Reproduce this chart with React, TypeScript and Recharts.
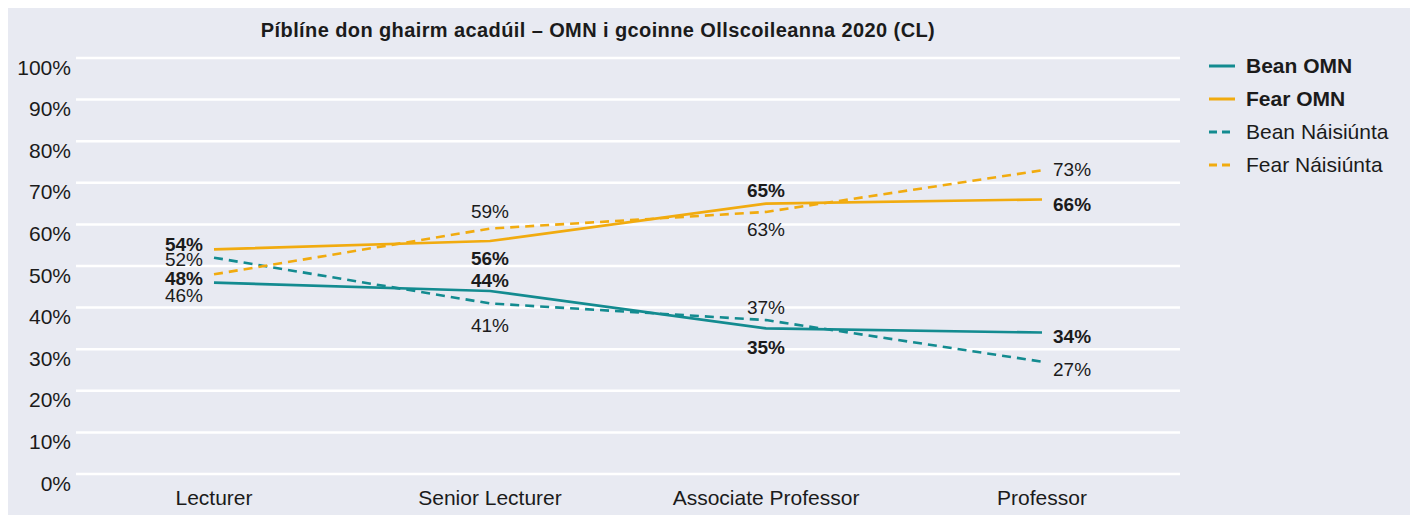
import React from "react";
import { LineChart, Line, XAxis, YAxis, CartesianGrid, LabelList } from "recharts";

const categories = ["Lecturer", "Senior Lecturer", "Associate Professor", "Professor"];
const beanOmn = [46, 44, 35, 34];
const fearOmn = [54, 56, 65, 66];
const beanNat = [52, 41, 37, 27];
const fearNat = [48, 59, 63, 73];
const yTicks = [0, 10, 20, 30, 40, 50, 60, 70, 80, 90, 100];

const TEAL = "#138b90";
const ORANGE = "#f1ab0f";
const BG = "#e8eaf2";
const TEXT = "#1b1b1b";
const FONT = "'Liberation Sans', Arial, sans-serif";

const data = categories.map((name, i) => ({
  name,
  beanOmn: beanOmn[i],
  fearOmn: fearOmn[i],
  beanNat: beanNat[i],
  fearNat: fearNat[i],
}));

type Place = "left" | "right" | "above" | "below";
// where each value label sits relative to its point, a vertical nudge, and its weight
const labelPlaces: Record<string, Array<[Place, number, boolean]>> = {
  beanOmn: [["left", 13, false], ["above", -10, true], ["below", 19, true], ["right", 4, true]],
  fearOmn: [["left", -5, true], ["below", 17, true], ["above", -13, true], ["right", 5, true]],
  beanNat: [["left", 2, false], ["below", 22, false], ["above", -13, false], ["right", 8, false]],
  fearNat: [["left", 4, true], ["above", -17, false], ["below", 18, false], ["right", -1, false]],
};

const series = [
  { key: "beanOmn", name: "Bean OMN", color: TEAL, dashed: false, bold: true },
  { key: "fearOmn", name: "Fear OMN", color: ORANGE, dashed: false, bold: true },
  { key: "beanNat", name: "Bean Náisiúnta", color: TEAL, dashed: true, bold: false },
  { key: "fearNat", name: "Fear Náisiúnta", color: ORANGE, dashed: true, bold: false },
];

const makeLabel = (key: string) => (props: any) => {
  const { x, y, value, index } = props;
  const [place, dy, bold] = labelPlaces[key][index];
  let dx = 0;
  let anchor: "start" | "middle" | "end" = "middle";
  if (place === "left") {
    dx = -11;
    anchor = "end";
  } else if (place === "right") {
    dx = 11;
    anchor = "start";
  }
  return (
    <text
      x={x + dx}
      y={y + dy}
      textAnchor={anchor}
      dominantBaseline="central"
      fontSize={19}
      fontFamily={FONT}
      fontWeight={bold ? 600 : 400}
      fill={TEXT}
    >
      {value}%
    </text>
  );
};

const YTick = (props: any) => {
  const { x, y, payload } = props;
  return (
    <text x={x} y={y + 9} textAnchor="end" dominantBaseline="central" fontSize={21} fontFamily={FONT} fill={TEXT}>
      {payload.value}%
    </text>
  );
};

const XTick = (props: any) => {
  const { x, y, payload } = props;
  return (
    <text x={x} y={y + 23} textAnchor="middle" dominantBaseline="central" fontSize={21} fontFamily={FONT} fill={TEXT}>
      {payload.value}
    </text>
  );
};

const LegendBox = () => (
  <div style={{ position: "absolute", left: 1201, top: 41, display: "flex", flexDirection: "column" }}>
    {series.map((s) => (
      <div key={s.key} style={{ display: "flex", alignItems: "center", height: 33 }}>
        <svg width={37} height={10}>
          <line
            x1={0}
            x2={26}
            y1={5}
            y2={5}
            stroke={s.color}
            strokeWidth={3}
            strokeDasharray={s.dashed ? "8 5" : undefined}
          />
        </svg>
        <span
          style={{
            fontFamily: FONT,
            fontSize: 21,
            color: TEXT,
            fontWeight: s.bold ? 600 : 400,
            whiteSpace: "nowrap",
          }}
        >
          {s.name}
        </span>
      </div>
    ))}
  </div>
);

export default function App() {
  return (
    <div style={{ position: "relative", width: 1405, height: 507, background: BG }}>
      <div
        style={{
          position: "absolute",
          top: 11,
          left: 0,
          width: 1180,
          textAlign: "center",
          fontFamily: FONT,
          fontSize: 20,
          fontWeight: 600,
          color: TEXT,
          letterSpacing: 0.4,
        }}
      >
        Píblíne don ghairm acadúil – OMN i gcoinne Ollscoileanna 2020 (CL)
      </div>
      <LineChart width={1405} height={507} data={data} margin={{ top: 50, right: 233, bottom: 11, left: 0 }}>
        <CartesianGrid vertical={false} stroke="#ffffff" strokeWidth={2.5} />
        <XAxis
          dataKey="name"
          axisLine={false}
          tickLine={false}
          tickSize={0}
          tickMargin={0}
          height={30}
          padding={{ left: 138, right: 138 }}
          tick={<XTick />}
          interval={0}
        />
        <YAxis
          domain={[0, 100]}
          ticks={yTicks}
          axisLine={false}
          tickLine={false}
          tickSize={0}
          tickMargin={5}
          width={68}
          tick={<YTick />}
          interval={0}
        />
        {series.map((s) => (
          <Line
            key={s.key}
            type="linear"
            dataKey={s.key}
            name={s.name}
            stroke={s.color}
            strokeWidth={2.6}
            strokeDasharray={s.dashed ? "9 6" : undefined}
            dot={false}
            activeDot={false}
            isAnimationActive={false}
          >
            <LabelList dataKey={s.key} content={makeLabel(s.key)} />
          </Line>
        ))}
      </LineChart>
      <LegendBox />
    </div>
  );
}
